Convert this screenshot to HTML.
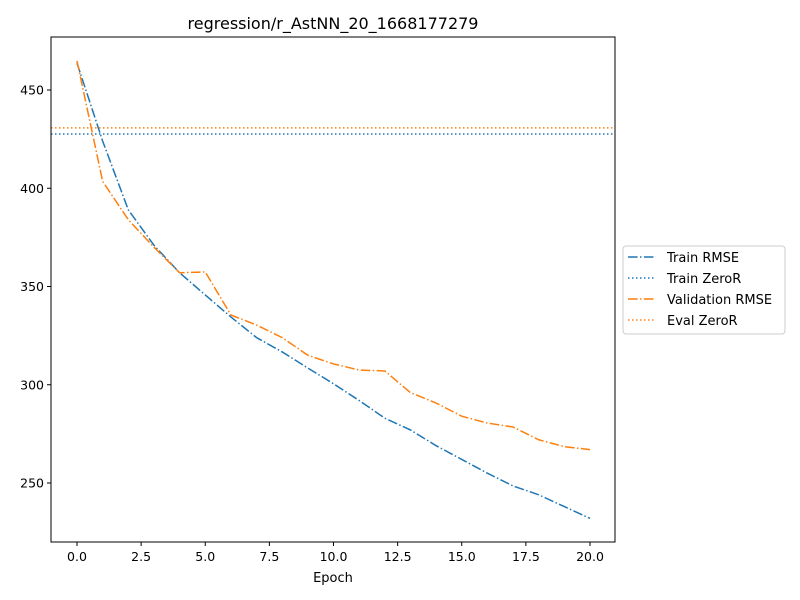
<!DOCTYPE html>
<html><head><meta charset="utf-8"><style>body{margin:0;background:#fff}svg{display:block;font-family:"DejaVu Sans","Liberation Sans",sans-serif}</style></head>
<body>
<svg id="chart" width="800" height="600" xmlns="http://www.w3.org/2000/svg">
<rect width="800" height="600" fill="#fff"/>
<text x="333" y="29" font-size="16" text-anchor="middle">regression/r_AstNN_20_1668177279</text>
<g id="grid"></g>
<g id="lines"></g>
<rect x="51" y="37" width="564" height="505" fill="none" stroke="#000" stroke-width="1"/>
<text x="333" y="582" font-size="13" text-anchor="middle">Epoch</text>
<g>
<rect x="623" y="246" width="162" height="88" rx="3" fill="#fff" stroke="#ccc"/>
<line x1="628" y1="257" x2="656" y2="257" stroke="#1f77b4" stroke-width="1.5" stroke-dasharray="9.6,2.4,1.5,2.4"/>
<text x="667" y="262" font-size="13">Train RMSE</text>
<line x1="628" y1="278" x2="656" y2="278" stroke="#1f77b4" stroke-width="1.5" stroke-dasharray="1.5,2.5"/>
<text x="667" y="283" font-size="13">Train ZeroR</text>
<line x1="628" y1="299" x2="656" y2="299" stroke="#ff7f0e" stroke-width="1.5" stroke-dasharray="9.6,2.4,1.5,2.4"/>
<text x="667" y="304" font-size="13">Validation RMSE</text>
<line x1="628" y1="320" x2="656" y2="320" stroke="#ff7f0e" stroke-width="1.5" stroke-dasharray="1.5,2.5"/>
<text x="667" y="325" font-size="13">Eval ZeroR</text>
</g>
</svg>
<script>
const epochs=[0,1,2,3,4,5,6,7,8,9,10,11,12,13,14,15,16,17,18,19,20];
const trainRmse=[463.7,424,389,371,357,345.7,334.5,324,316.7,308.5,300.5,292,283,277,269,262,255,248.5,244,238,232];
const valRmse=[464.8,403.5,384,370,357,357.4,335.5,330.4,324,315,310.6,307.5,307,296,290.7,284,280.5,278.5,272,268.5,267];
const trainZeroR=427.6;
const evalZeroR=430.7;
const xTicks=[0,2.5,5,7.5,10,12.5,15,17.5,20];
const xTickLabels=["0.0","2.5","5.0","7.5","10.0","12.5","15.0","17.5","20.0"];
const yTicks=[250,300,350,400,450];
const NS="http://www.w3.org/2000/svg";
const X=v=>77+v*(590-77)/20;
const Y=v=>483-(v-250)*393/200;
const grid=document.getElementById('grid');
const lines=document.getElementById('lines');
function mk(t,a,p){const e=document.createElementNS(NS,t);for(const k in a)e.setAttribute(k,a[k]);p.appendChild(e);return e;}
xTicks.forEach((t,i)=>{
const l=mk('line',{x1:X(t),x2:X(t),y1:542,y2:546,stroke:'#000'},grid);


const tx=mk('text',{x:X(t),y:561,'font-size':12.5,'text-anchor':'middle'},grid);
tx.textContent=xTickLabels[i];


});
yTicks.forEach(t=>{
const l=mk('line',{x1:47,x2:51,y1:Y(t),y2:Y(t),stroke:'#000'},grid);


const tx=mk('text',{x:44,y:Y(t)+4.5,'font-size':12.5,'text-anchor':'end'},grid);
tx.textContent=String(t);


});
const dz=mk('line',{x1:51,x2:615,y1:Y(trainZeroR),y2:Y(trainZeroR),stroke:'#1f77b4','stroke-width':1.5,'stroke-dasharray':'1.5,2.5'},lines);


const ez=mk('line',{x1:51,x2:615,y1:Y(evalZeroR),y2:Y(evalZeroR),stroke:'#ff7f0e','stroke-width':1.5,'stroke-dasharray':'1.5,2.5'},lines);


const tp=mk('polyline',{points:epochs.map((e,i)=>X(e)+','+Y(trainRmse[i])).join(' '),fill:'none',stroke:'#1f77b4','stroke-width':1.5,'stroke-dasharray':'9.6,2.4,1.5,2.4'},lines);


const vp=mk('polyline',{points:epochs.map((e,i)=>X(e)+','+Y(valRmse[i])).join(' '),fill:'none',stroke:'#ff7f0e','stroke-width':1.5,'stroke-dasharray':'9.6,2.4,1.5,2.4'},lines);


</script>
</body></html>
